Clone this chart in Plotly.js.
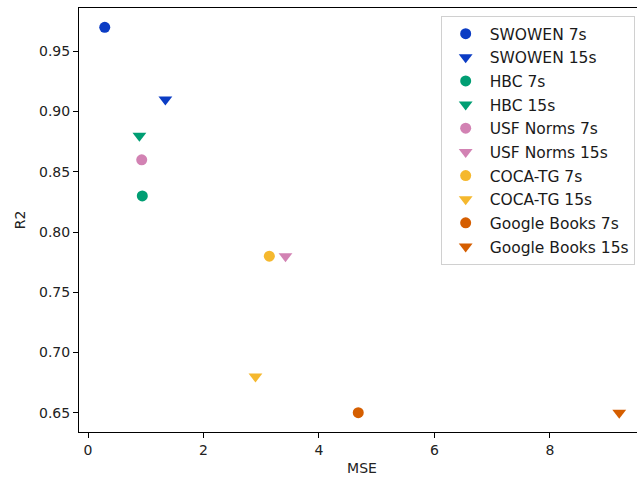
<!DOCTYPE html>
<html>
<head>
<meta charset="utf-8">
<script src="https://cdn.plot.ly/plotly-3.0.1.min.js"></script>
<style>
html, body { margin: 0; padding: 0; overflow: hidden; background: #fff; }
#chart { width: 660px; height: 482px; }
</style>
</head>
<body>
<div id="chart"></div>
<script>
const seriesNames = ["SWOWEN 7s", "SWOWEN 15s", "HBC 7s", "HBC 15s", "USF Norms 7s", "USF Norms 15s", "COCA-TG 7s", "COCA-TG 15s", "Google Books 7s", "Google Books 15s"];
const mseValues = [0.29, 1.34, 0.94, 0.89, 0.93, 3.42, 3.14, 2.90, 4.68, 9.20];
const r2Values = [0.97, 0.91, 0.83, 0.88, 0.86, 0.78, 0.78, 0.68, 0.65, 0.65];
const seriesColors = ["#0b3cc4", "#0b3cc4", "#009e73", "#009e73", "#d282b3", "#d282b3", "#f5b82e", "#f5b82e", "#d55e00", "#d55e00"];
const seriesSymbols = ["circle", "triangle-down", "circle", "triangle-down", "circle", "triangle-down", "circle", "triangle-down", "circle", "triangle-down"];

const traces = seriesNames.map((name, i) => ({
  type: "scatter",
  mode: "markers",
  name: name,
  legendgroup: "g" + i,
  x: [mseValues[i]],
  y: [r2Values[i]],
  marker: { color: seriesColors[i], symbol: seriesSymbols[i], size: seriesSymbols[i] === "circle" ? 11 : 12 }
}));

const font = { family: "DejaVu Sans, sans-serif", size: 14, color: "#222" };

const layout = {
  width: 660,
  height: 482,
  margin: { l: 79, r: 14.5, t: 8, b: 50 },
  paper_bgcolor: "#fff",
  plot_bgcolor: "#fff",
  font: font,
  showlegend: true,
  legend: {
    x: 0.639, xanchor: "left",
    y: 0.981, yanchor: "top",
    bgcolor: "#fff",
    bordercolor: "#d0d0d0",
    borderwidth: 1,
    font: { family: "DejaVu Sans, sans-serif", size: 15.5, color: "#1a1a1a" },
    traceorder: "grouped",
    tracegroupgap: 0.5,
    itemwidth: 38
  },
  xaxis: {
    range: [-0.156, 9.646],
    dtick: 2, tick0: 0,
    showgrid: false, zeroline: false,
    showline: true, mirror: true, linecolor: "#000", linewidth: 1,
    ticks: "outside", ticklen: 5, tickcolor: "#000",
    title: { text: "MSE", font: font, standoff: 6 }
  },
  yaxis: {
    range: [0.634, 0.986],
    dtick: 0.05, tick0: 0.65, tickformat: ".2f",
    showgrid: false, zeroline: false,
    showline: true, mirror: true, linecolor: "#000", linewidth: 1,
    ticks: "outside", ticklen: 5, tickcolor: "#000",
    title: { text: "R2", font: font, standoff: 10 }
  }
};

Plotly.newPlot("chart", traces, layout, { staticPlot: true, displayModeBar: false });
</script>
</body>
</html>
